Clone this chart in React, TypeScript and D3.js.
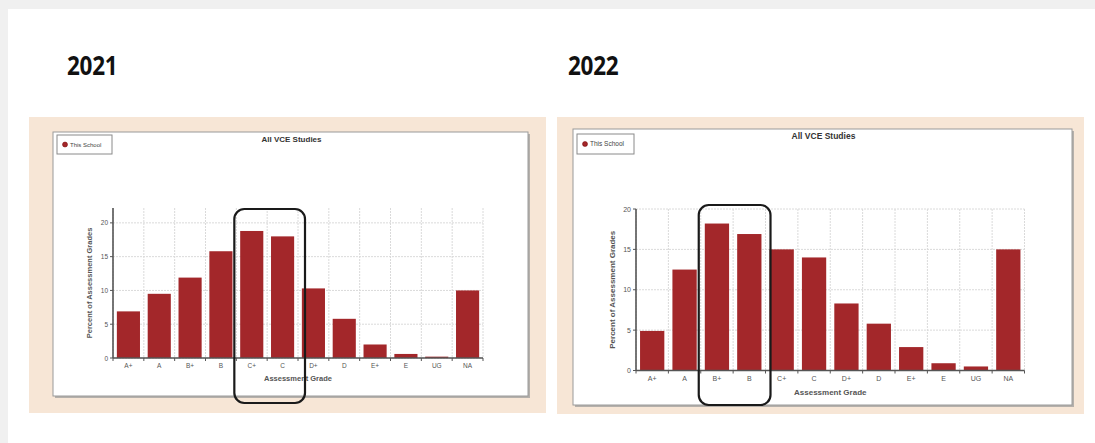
import React from "react";
import * as d3 from "d3";

const grades = ["A+", "A", "B+", "B", "C+", "C", "D+", "D", "E+", "E", "UG", "NA"];
const pct2021 = [6.9, 9.5, 11.9, 15.8, 18.8, 18.0, 10.3, 5.8, 2.0, 0.6, 0.2, 10.0];
const pct2022 = [4.9, 12.5, 18.2, 16.9, 15.0, 14.0, 8.3, 5.8, 2.9, 0.9, 0.5, 15.0];
const yTicks = [0, 5, 10, 15, 20];
const highlight2021 = ["C+", "C"];
const highlight2022 = ["B+", "B"];
const chartTitle = "All VCE Studies";
const legendLabel = "This School";
const xTitle = "Assessment Grade";
const yTitle = "Percent of Assessment Grades";

const BAR = "#a3272a";
const BEIGE = "#f7e6d6";
const FONT = "'Liberation Sans', Arial, sans-serif";

type PanelCfg = {
  year: string;
  yearX: number;
  values: number[];
  highlight: string[];
  beige: [number, number, number, number];
  inner: [number, number, number, number];
  plot: { x0: number; x1: number; yBase: number; yTop: number; yMax: number };
  legend: [number, number, number, number];
  titleY: number;
  xTickY: number;
  xTitleY: number;
  yTitleX: number;
  hl: { dxl: number; dxr: number; y0: number; y1: number };
  fs: number;
};

const panels: PanelCfg[] = [
  {
    year: "2021",
    yearX: 67,
    values: pct2021,
    highlight: highlight2021,
    beige: [29, 117, 517, 296],
    inner: [53, 132, 475, 264],
    plot: { x0: 113, x1: 483, yBase: 358, yTop: 208, yMax: 22.2 },
    legend: [57, 135, 55, 19],
    titleY: 142,
    xTickY: 368,
    xTitleY: 381,
    yTitleX: 92,
    hl: { dxl: -2, dxr: 7, y0: 209, y1: 403 },
    fs: 7,
  },
  {
    year: "2022",
    yearX: 568,
    values: pct2022,
    highlight: highlight2022,
    beige: [557, 117, 527, 297],
    inner: [573, 129, 499, 276],
    plot: { x0: 636, x1: 1024.5, yBase: 370.5, yTop: 209, yMax: 20 },
    legend: [577, 134, 57, 20],
    titleY: 139,
    xTickY: 381,
    xTitleY: 395,
    yTitleX: 615,
    hl: { dxl: -2, dxr: 5, y0: 205, y1: 405 },
    fs: 7.5,
  },
];

function Panel({ cfg }: { cfg: PanelCfg }) {
  const { plot } = cfg;
  const pad = 0.25;
  const x = d3
    .scaleBand<string>()
    .domain(grades)
    .range([plot.x0, plot.x1])
    .paddingInner(pad)
    .paddingOuter(pad / 2);
  const step = x.step();
  const cellLeft = (g: string) => (x(g) as number) - (step * pad) / 2;
  const y = d3.scaleLinear().domain([0, plot.yMax]).range([plot.yBase, plot.yTop]);
  const boundaries = d3.range(grades.length + 1).map((i) => plot.x0 + i * step);
  const [bx, by, bw, bh] = cfg.beige;
  const [ix, iy, iw, ih] = cfg.inner;
  const [lx, ly, lw, lh] = cfg.legend;
  const hlLeft = cellLeft(cfg.highlight[0]) + cfg.hl.dxl;
  const hlRight = cellLeft(cfg.highlight[cfg.highlight.length - 1]) + step + cfg.hl.dxr;
  const cx = (plot.x0 + plot.x1) / 2;
  const cy = (plot.yBase + plot.yTop) / 2;
  return (
    <g>
      <text
        transform={`translate(${cfg.yearX},75) scale(0.9,1.08)`}
        fontFamily="'Open Sans', sans-serif"
        fontWeight={700}
        fontSize={25}
        fill="#111"
        letterSpacing={-0.3}
      >
        {cfg.year}
      </text>
      <rect x={bx} y={by} width={bw} height={bh} fill={BEIGE} />
      <rect x={ix + 2} y={iy + 2} width={iw} height={ih} fill="#b5b0ab" />
      <rect x={ix} y={iy} width={iw} height={ih} fill="#fff" stroke="#9a9a9a" strokeWidth={1} />
      <text x={(ix + ix + iw) / 2 + 1} y={cfg.titleY} textAnchor="middle" fontFamily={FONT} fontWeight={700} fontSize={cfg.fs + 1} fill="#333">
        {chartTitle}
      </text>
      <rect x={lx} y={ly} width={lw} height={lh} fill="#fff" stroke="#8a8a8a" strokeWidth={1} />
      <circle cx={lx + 8} cy={ly + lh / 2} r={2.5} fill={BAR} stroke="#700" strokeWidth={0.5} />
      <text x={lx + 13} y={ly + lh / 2 + 2} fontFamily={FONT} fontSize={cfg.fs - 1} fill="#444">
        {legendLabel}
      </text>
      {yTicks.map((t) => (
        <line key={"gy" + t} x1={plot.x0} x2={plot.x1} y1={y(t)} y2={y(t)} stroke="#dadada" strokeWidth={1} strokeDasharray="2,1" />
      ))}
      {boundaries.map((b, i) => (
        <line key={"gx" + i} x1={b} x2={b} y1={plot.yTop} y2={plot.yBase} stroke="#dadada" strokeWidth={1} strokeDasharray="2,1" />
      ))}
      {grades.map((g, i) => (
        <rect key={g} x={x(g)} y={y(cfg.values[i])} width={x.bandwidth()} height={plot.yBase - y(cfg.values[i])} fill={BAR} />
      ))}
      <line x1={plot.x0} x2={plot.x0} y1={plot.yTop} y2={plot.yBase} stroke="#555" strokeWidth={1.6} />
      <line x1={plot.x0} x2={plot.x1} y1={plot.yBase} y2={plot.yBase} stroke="#555" strokeWidth={1.6} />
      {yTicks.map((t) => (
        <g key={"ty" + t}>
          <line x1={plot.x0 - 3} x2={plot.x0} y1={y(t)} y2={y(t)} stroke="#555" />
          <text x={plot.x0 - 5} y={y(t) + 2.5} textAnchor="end" fontFamily={FONT} fontSize={cfg.fs - 0.5} fill="#555">
            {t}
          </text>
        </g>
      ))}
      {boundaries.map((b, i) => (
        <line key={"tx" + i} x1={b} x2={b} y1={plot.yBase} y2={plot.yBase + 3} stroke="#555" />
      ))}
      {grades.map((g) => (
        <text key={"lx" + g} x={(x(g) as number) + x.bandwidth() / 2} y={cfg.xTickY} textAnchor="middle" fontFamily={FONT} fontSize={cfg.fs - 0.5} fill="#555">
          {g}
        </text>
      ))}
      <text x={cx} y={cfg.xTitleY} textAnchor="middle" fontFamily={FONT} fontWeight={700} fontSize={cfg.fs + 0.5} fill="#555">
        {xTitle}
      </text>
      <text transform={`translate(${cfg.yTitleX},${cy}) rotate(-90)`} textAnchor="middle" fontFamily={FONT} fontWeight={700} fontSize={cfg.fs + 0.5} fill="#555">
        {yTitle}
      </text>
      <rect x={hlLeft} y={cfg.hl.y0} width={hlRight - hlLeft} height={cfg.hl.y1 - cfg.hl.y0} rx={10} ry={10} fill="none" stroke="#1a1a1a" strokeWidth={2.2} />
    </g>
  );
}

export default function App() {
  return (
    <svg width={1095} height={443} style={{ position: "absolute", left: 0, top: 0, display: "block" }}>
      <rect x={0} y={0} width={1095} height={443} fill="#f0f0f0" />
      <rect x={8} y={9} width={1087} height={434} fill="#fff" />
      {panels.map((p) => (
        <Panel key={p.year} cfg={p} />
      ))}
    </svg>
  );
}
